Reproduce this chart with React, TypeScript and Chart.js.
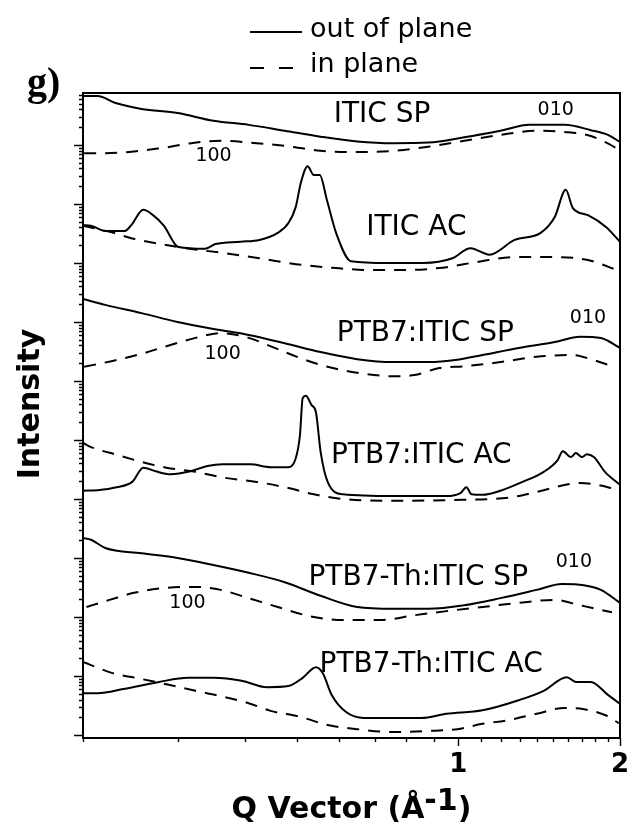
import React, { useEffect, useRef } from 'react';
import { Chart, registerables } from 'chart.js';

Chart.register(...registerables);

const SANS = '"DejaVu Sans", "Noto Sans", sans-serif';
const SERIF = '"Liberation Serif", "DejaVu Serif", serif';

// ---- data: Q (Å^-1) and log10(intensity) for each profile ----
const iticSpOutQ = [0.2, 0.213, 0.23, 0.257, 0.3, 0.35, 0.407, 0.475, 0.554, 0.648, 0.756, 0.879, 1.026, 1.198, 1.357, 1.578, 1.765, 1.899, 2.0];
const iticSpOutL = [10.83, 10.83, 10.71, 10.61, 10.54, 10.41, 10.34, 10.24, 10.14, 10.06, 10.03, 10.04, 10.13, 10.24, 10.34, 10.34, 10.25, 10.17, 10.05];
const iticSpInQ = [0.201, 0.22, 0.282, 0.318, 0.361, 0.421, 0.489, 0.554, 0.648, 0.756, 0.879, 1.026, 1.198, 1.399, 1.578, 1.765, 1.966, 1.99];
const iticSpInL = [9.86, 9.86, 9.95, 10.03, 10.07, 10.03, 9.97, 9.9, 9.88, 9.9, 9.97, 10.07, 10.17, 10.24, 10.22, 10.15, 9.95, 9.92];

const iticAcOutQ = [0.2, 0.207, 0.221, 0.239, 0.246, 0.259, 0.27, 0.283, 0.301, 0.337, 0.353, 0.393, 0.426, 0.461, 0.483, 0.498, 0.509, 0.524, 0.538, 0.552, 0.569, 0.592, 0.631, 0.737, 0.86, 0.975, 1.053, 1.143, 1.273, 1.423, 1.512, 1.585, 1.634, 1.743, 1.883, 2.0];
const iticAcOutL = [8.64, 8.63, 8.54, 8.54, 8.64, 8.9, 8.81, 8.63, 8.27, 8.24, 8.32, 8.36, 8.39, 8.51, 8.68, 8.95, 9.36, 9.64, 9.49, 9.49, 9.07, 8.51, 8.03, 8.0, 8.0, 8.08, 8.25, 8.14, 8.39, 8.51, 8.78, 9.24, 8.93, 8.81, 8.61, 8.36];
const iticAcInQ = [0.2, 0.228, 0.246, 0.279, 0.311, 0.364, 0.426, 0.498, 0.581, 0.682, 0.796, 0.934, 1.09, 1.273, 1.492, 1.743, 1.974];
const iticAcInL = [8.63, 8.51, 8.42, 8.32, 8.25, 8.17, 8.08, 7.98, 7.92, 7.88, 7.88, 7.92, 8.02, 8.1, 8.1, 8.05, 7.88];

const ptbSpOutQ = [0.2, 0.22, 0.257, 0.3, 0.35, 0.407, 0.475, 0.554, 0.648, 0.756, 0.879, 0.996, 1.109, 1.295, 1.512, 1.684, 1.843, 2.0];
const ptbSpOutL = [7.39, 7.29, 7.15, 7.0, 6.88, 6.78, 6.64, 6.49, 6.37, 6.32, 6.32, 6.36, 6.44, 6.56, 6.66, 6.75, 6.73, 6.56];
const ptbSpInQ = [0.201, 0.227, 0.257, 0.291, 0.324, 0.361, 0.407, 0.455, 0.507, 0.571, 0.648, 0.756, 0.828, 0.922, 1.026, 1.198, 1.399, 1.634, 1.765, 1.932];
const ptbSpInL = [6.24, 6.34, 6.46, 6.61, 6.73, 6.81, 6.73, 6.56, 6.39, 6.24, 6.14, 6.08, 6.1, 6.22, 6.25, 6.32, 6.41, 6.44, 6.37, 6.25];

const ptbAcOutQ = [0.2, 0.213, 0.231, 0.247, 0.259, 0.273, 0.291, 0.317, 0.341, 0.364, 0.41, 0.447, 0.483, 0.498, 0.507, 0.513, 0.52, 0.533, 0.543, 0.554, 0.571, 0.61, 0.756, 0.95, 1.009, 1.035, 1.058, 1.109, 1.198, 1.317, 1.442, 1.531, 1.565, 1.62, 1.655, 1.698, 1.735, 1.788, 1.875, 2.0];
const ptbAcOutL = [4.14, 4.15, 4.2, 4.29, 4.53, 4.47, 4.42, 4.47, 4.56, 4.59, 4.59, 4.54, 4.54, 4.69, 5.08, 5.71, 5.75, 5.59, 5.47, 4.8, 4.29, 4.08, 4.05, 4.05, 4.1, 4.2, 4.08, 4.07, 4.14, 4.29, 4.46, 4.66, 4.81, 4.71, 4.78, 4.71, 4.76, 4.71, 4.46, 4.24];
const ptbAcInQ = [0.2, 0.207, 0.231, 0.257, 0.286, 0.324, 0.367, 0.421, 0.475, 0.538, 0.61, 0.756, 0.95, 1.256, 1.399, 1.684, 1.899, 1.991];
const ptbAcInL = [4.95, 4.88, 4.75, 4.63, 4.53, 4.46, 4.36, 4.29, 4.2, 4.08, 4.0, 3.97, 3.98, 4.03, 4.12, 4.27, 4.2, 4.14];

const thSpOutQ = [0.2, 0.207, 0.22, 0.257, 0.3, 0.35, 0.407, 0.475, 0.554, 0.648, 0.756, 0.879, 1.026, 1.198, 1.399, 1.558, 1.713, 1.843, 2.0];
const thSpOutL = [3.34, 3.31, 3.17, 3.08, 3.0, 2.88, 2.75, 2.59, 2.36, 2.17, 2.14, 2.14, 2.2, 2.32, 2.46, 2.56, 2.54, 2.46, 2.24];
const thSpInQ = [0.203, 0.224, 0.249, 0.282, 0.324, 0.361, 0.407, 0.461, 0.538, 0.618, 0.721, 0.828, 0.95, 1.109, 1.295, 1.512, 1.684, 1.932];
const thSpInL = [2.17, 2.29, 2.41, 2.49, 2.51, 2.46, 2.32, 2.17, 2.0, 1.95, 1.95, 2.03, 2.1, 2.17, 2.24, 2.29, 2.2, 2.08];

const thAcOutQ = [0.2, 0.213, 0.238, 0.277, 0.314, 0.35, 0.395, 0.44, 0.483, 0.513, 0.543, 0.559, 0.581, 0.618, 0.667, 0.756, 0.853, 0.95, 1.109, 1.295, 1.442, 1.592, 1.655, 1.765, 1.899, 2.0];
const thAcOutL = [0.71, 0.71, 0.78, 0.9, 0.97, 0.97, 0.92, 0.81, 0.83, 0.97, 1.15, 1.05, 0.68, 0.39, 0.29, 0.29, 0.29, 0.36, 0.42, 0.59, 0.75, 0.98, 0.9, 0.9, 0.68, 0.53];
const thAcInQ = [0.2, 0.227, 0.257, 0.286, 0.324, 0.361, 0.407, 0.447, 0.507, 0.571, 0.648, 0.756, 0.879, 0.996, 1.109, 1.235, 1.399, 1.578, 1.706, 1.875, 1.991];
const thAcInL = [1.24, 1.05, 0.95, 0.86, 0.75, 0.66, 0.54, 0.41, 0.31, 0.17, 0.1, 0.05, 0.07, 0.1, 0.19, 0.25, 0.36, 0.46, 0.44, 0.34, 0.2];

// ---- axes ----
const X_MIN = 0.2;
const X_MAX = 2;
const X_TICKS = [0.2, 0.3, 0.4, 0.5, 0.6, 0.7, 0.8, 0.9, 1, 1.1, 1.2, 1.3, 1.4, 1.5, 1.6, 1.7, 1.8, 1.9, 2];
const X_TICK_LABELS: Record<string, string> = { '1': '1', '2': '2' };
const Y_MIN_EXP = -0.05;
const Y_MAX_EXP = 10.88;
const Y_DECADES = [0, 1, 2, 3, 4, 5, 6, 7, 8, 9, 10];
const Y_MULTS = [1, 2, 3, 4, 5, 6, 7, 8, 9];

// ---- annotations: [text, Q, log10 intensity] ----
const SAMPLE_LABELS: [string, number, number][] = [
  ['ITIC SP', 0.721, 10.51],
  ['ITIC AC', 0.835, 8.59],
  ['PTB7:ITIC SP', 0.868, 6.8],
  ['PTB7:ITIC AC', 0.853, 4.73],
  ['PTB7-Th:ITIC SP', 0.842, 2.66],
  ['PTB7-Th:ITIC AC', 0.89, 1.2],
];
const PEAK_LABELS: [string, number, number][] = [
  ['010', 1.518, 10.59],
  ['100', 0.35, 9.81],
  ['010', 1.743, 7.07],
  ['100', 0.364, 6.46],
  ['010', 1.641, 2.93],
  ['100', 0.313, 2.24],
];

const SERIES: [number[], number[], boolean][] = [
  [iticSpOutQ, iticSpOutL, false],
  [iticSpInQ, iticSpInL, true],
  [iticAcOutQ, iticAcOutL, false],
  [iticAcInQ, iticAcInL, true],
  [ptbSpOutQ, ptbSpOutL, false],
  [ptbSpInQ, ptbSpInL, true],
  [ptbAcOutQ, ptbAcOutL, false],
  [ptbAcInQ, ptbAcInL, true],
  [thSpOutQ, thSpOutL, false],
  [thSpInQ, thSpInL, true],
  [thAcOutQ, thAcOutL, false],
  [thAcInQ, thAcInL, true],
];

const DASH = [12, 9];

const overlay = {
  id: 'overlay',
  afterDatasetsDraw(chart: any) {
    const ctx = chart.ctx as CanvasRenderingContext2D;
    const { left, right, top, bottom } = chart.chartArea;
    const xs = chart.scales.x;
    const ys = chart.scales.y;
    ctx.save();
    ctx.strokeStyle = '#000';
    ctx.fillStyle = '#000';

    // frame
    ctx.lineWidth = 2;
    ctx.setLineDash([]);
    ctx.strokeRect(left, top, right - left, bottom - top);

    // y ticks (outward)
    ctx.lineWidth = 1.4;
    ctx.beginPath();
    Y_DECADES.forEach((d) => {
      Y_MULTS.forEach((m) => {
        const v = m * Math.pow(10, d);
        const lv = Math.log10(v);
        if (lv < Y_MIN_EXP || lv > Y_MAX_EXP) return;
        const py = Math.round(ys.getPixelForValue(v)) + 0.5;
        const len = m === 1 ? 9 : 4;
        ctx.moveTo(left - len, py);
        ctx.lineTo(left, py);
      });
    });
    // x ticks (outward)
    X_TICKS.forEach((v) => {
      const px = Math.round(xs.getPixelForValue(v)) + 0.5;
      const len = X_TICK_LABELS[String(v)] ? 8 : 4;
      ctx.moveTo(px, bottom);
      ctx.lineTo(px, bottom + len);
    });
    ctx.stroke();

    // sample labels
    ctx.textAlign = 'center';
    ctx.textBaseline = 'middle';
    ctx.font = `28px ${SANS}`;
    SAMPLE_LABELS.forEach(([t, q, l]) => {
      ctx.fillText(t, xs.getPixelForValue(q), ys.getPixelForValue(Math.pow(10, l)));
    });
    ctx.font = `19px ${SANS}`;
    PEAK_LABELS.forEach(([t, q, l]) => {
      ctx.fillText(t, xs.getPixelForValue(q), ys.getPixelForValue(Math.pow(10, l)));
    });

    // y title
    ctx.save();
    ctx.translate(31, 404);
    ctx.rotate(-Math.PI / 2);
    ctx.font = `bold 30px ${SANS}`;
    ctx.fillText('Intensity', 0, 0);
    ctx.restore();

    // legend
    ctx.lineWidth = 2;
    ctx.beginPath();
    ctx.moveTo(250, 32);
    ctx.lineTo(302, 32);
    ctx.stroke();
    ctx.setLineDash([14, 15]);
    ctx.beginPath();
    ctx.moveTo(250, 68);
    ctx.lineTo(294, 68);
    ctx.stroke();
    ctx.setLineDash([]);
    ctx.textAlign = 'left';
    ctx.textBaseline = 'alphabetic';
    ctx.font = `27px ${SANS}`;
    ctx.fillText('out of plane', 310, 37);
    ctx.fillText('in plane', 310, 72);

    // panel letter
    ctx.font = `bold 40px ${SERIF}`;
    ctx.fillText('g)', 27, 95);

    // x title with superscript
    const big = `bold 30px ${SANS}`;
    const main = 'Q Vector (Å';
    const sup = '-1';
    const close = ')';
    ctx.font = big;
    const w1 = ctx.measureText(main).width;
    const w2 = ctx.measureText(sup).width;
    const w3 = ctx.measureText(close).width;
    const cx = (left + right) / 2;
    let x0 = cx - (w1 + w2 + w3) / 2;
    const base = 818;
    ctx.fillText(main, x0, base);
    x0 += w1;
    ctx.fillText(sup, x0, base - 8);
    x0 += w2;
    ctx.fillText(close, x0, base);

    ctx.restore();
  },
};

export default function App() {
  const ref = useRef<HTMLCanvasElement | null>(null);

  useEffect(() => {
    if (!ref.current) return;
    const datasets = SERIES.map(([q, l, dashed]) => ({
      data: q.map((x, i) => ({ x, y: Math.pow(10, l[i]) })),
      borderColor: '#000',
      backgroundColor: '#000',
      borderWidth: 2,
      borderDash: dashed ? DASH : [],
      pointRadius: 0,
      fill: false,
      cubicInterpolationMode: 'monotone' as const,
    }));

    const chart = new Chart(ref.current, {
      type: 'line',
      data: { datasets },
      plugins: [overlay],
      options: {
        animation: false,
        responsive: false,
        devicePixelRatio: 1,
        layout: { padding: { left: 0, right: 10, top: 93, bottom: 0 } },
        plugins: { legend: { display: false }, tooltip: { enabled: false } },
        scales: {
          x: {
            type: 'logarithmic',
            position: 'bottom',
            min: X_MIN,
            max: X_MAX,
            afterBuildTicks: (s: any) => {
              s.ticks = X_TICKS.map((v) => ({ value: v }));
            },
            afterFit: (s: any) => {
              s.height = 86;
              s.paddingLeft = 0;
              s.paddingRight = 0;
            },
            ticks: {
              autoSkip: false,
              maxRotation: 0,
              minRotation: 0,
              padding: 12,
              color: '#000',
              font: { family: SANS, size: 26, weight: 'bold' },
              callback: (v: any) => X_TICK_LABELS[String(v)] ?? '',
            },
            grid: { display: false, drawTicks: false },
            border: { display: false },
          },
          y: {
            type: 'logarithmic',
            position: 'left',
            min: Math.pow(10, Y_MIN_EXP),
            max: Math.pow(10, Y_MAX_EXP),
            afterFit: (s: any) => {
              s.width = 83;
              s.paddingTop = 0;
              s.paddingBottom = 0;
            },
            ticks: { display: false },
            grid: { display: false, drawTicks: false },
            border: { display: false },
            title: { display: false, text: 'Intensity' },
          },
        },
      },
    });
    return () => chart.destroy();
  }, []);

  return (
    <div style={{ position: 'absolute', left: 0, top: 0, width: 630, height: 824, background: '#fff' }}>
      <canvas ref={ref} width={630} height={824} style={{ display: 'block' }} />
    </div>
  );
}
